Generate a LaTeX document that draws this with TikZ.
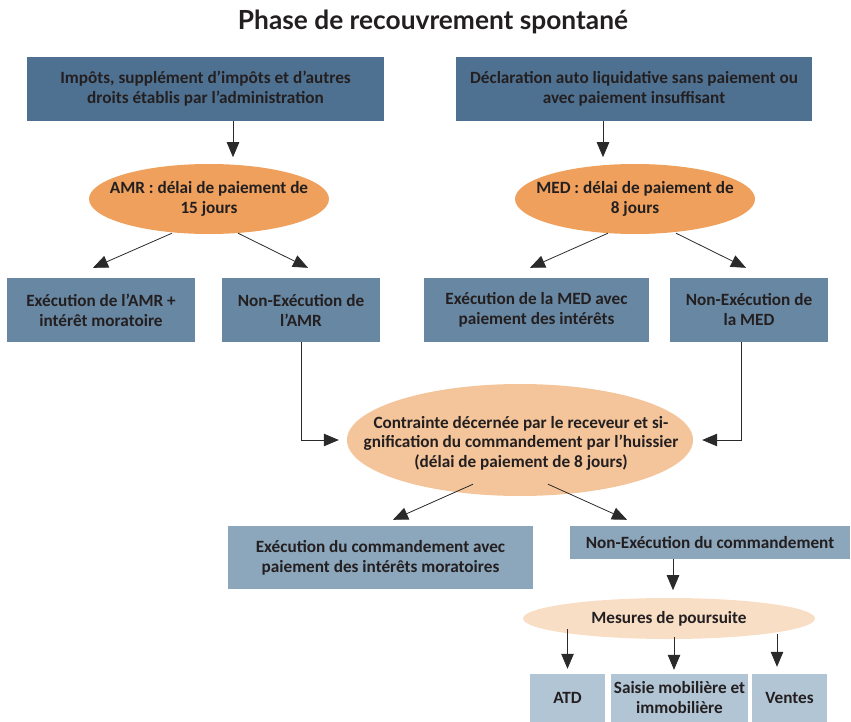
\documentclass[tikz,border=0pt]{standalone}
\usepackage{fontspec}
\setmainfont{Carlito}
\newfontfamily\titlefont{Lato}
\usetikzlibrary{arrows.meta,shapes.geometric}
\definecolor{txt}{HTML}{231F20}
\definecolor{boxA}{HTML}{4F7191}
\definecolor{boxB}{HTML}{6887A2}
\definecolor{boxC}{HTML}{8CA6BB}
\definecolor{boxD}{HTML}{B2C5D5}
\definecolor{ellA}{HTML}{EEA05C}
\definecolor{ellB}{HTML}{F4C59B}
\definecolor{ellC}{HTML}{F9DEC6}
\definecolor{lin}{HTML}{2A2A2A}
\tikzset{
  base/.style={text=txt,font=\bfseries\fontsize{17.2}{20}\selectfont,align=center,inner sep=0pt},
  boxa/.style={base,rectangle,fill=boxA},
  boxb/.style={base,rectangle,fill=boxB},
  boxc/.style={base,rectangle,fill=boxC},
  boxd/.style={base,rectangle,fill=boxD},
  ella/.style={ellipse,inner sep=0pt,fill=ellA},
  ellb/.style={ellipse,inner sep=0pt,fill=ellB},
  ellc/.style={ellipse,inner sep=0pt,fill=ellC},
  arr/.style={draw=lin,line width=0.8pt,-{Triangle[length=15pt,width=12.5pt]}}
}
\begin{document}
\begin{tikzpicture}[x=1pt,y=-1pt]
\useasboundingbox (0,0) rectangle (851,722);
\node[text=txt,font=\titlefont\bfseries\fontsize{26.3}{30}\selectfont,inner sep=0pt] (title) at (433,22) {Phase de recouvrement spontané};
\node[boxa,minimum width=357pt,minimum height=64pt] (b1) at (205.5,89) {Impôts, supplément d’impôts et d’autres\\droits établis par l’administration};
\node[boxa,minimum width=356pt,minimum height=64pt] (b2) at (634,89) {Déclaration auto liquidative sans paiement ou\\avec paiement insuffisant};
\node[ella,minimum width=240pt,minimum height=70pt] (e1) at (209,199) {};
\node[base] (e1t) at (e1.center) {AMR : délai de paiement de\\15 jours};
\node[ella,minimum width=240pt,minimum height=70pt] (e2) at (635,199) {};
\node[base] (e2t) at (e2.center) {MED : délai de paiement de\\8 jours};
\node[boxb,minimum width=188pt,minimum height=64pt] (b3) at (101,310) {Exécution de l’AMR +\\intérêt moratoire};
\node[boxb,minimum width=158pt,minimum height=64pt] (b4) at (301,310) {Non-Exécution de\\l’AMR};
\node[boxb,minimum width=225pt,minimum height=64pt] (b5) at (536.5,310) {Exécution de la MED avec\\paiement des intérêts};
\node[boxb,minimum width=158pt,minimum height=64pt] (b6) at (749,310) {Non-Exécution de\\la MED};
\node[ellb,minimum width=346pt,minimum height=112pt] (e3) at (520,440) {};
\node[base,font=\bfseries\fontsize{17.2}{19.5}\selectfont] (e3t) at (521,443) {Contrainte décernée par le receveur et si-\\gnification du commandement par l’huissier\\(délai de paiement de 8 jours)};
\node[boxc,minimum width=305pt,minimum height=63pt] (b7) at (380.5,557.5) {Exécution du commandement avec\\paiement des intérêts moratoires};
\node[boxc,minimum width=280pt,minimum height=33pt] (b8) at (710,542.5) {Non-Exécution du commandement};
\node[ellc,minimum width=292pt,minimum height=41pt] (e4) at (669,618.5) {};
\node[base] (e4t) at (e4.center) {Mesures de poursuite};
\node[boxd,minimum width=75pt,minimum height=48pt] (b9) at (567.5,698) {ATD};
\node[boxd,minimum width=137pt,minimum height=48pt] (b10) at (679.5,698) {Saisie mobilière et\\immobilière};
\node[boxd,minimum width=75pt,minimum height=48pt] (b11) at (789.5,698) {Ventes};
% connectors
\draw[arr] ([xshift=27.5pt]b1.south) -- ++(0,36);
\draw[arr] ([xshift=-31pt]b2.south) -- ++(0,36);
\draw[arr] ([xshift=-37pt,yshift=1pt]e1.south) -- ([xshift=-8pt,yshift=10pt]b3.north);
\draw[arr] ([xshift=29pt,yshift=1pt]e1.south) -- ([xshift=7pt,yshift=10pt]b4.north);
\draw[arr] ([xshift=-27pt,yshift=1pt]e2.south) -- ([xshift=-6.5pt,yshift=10pt]b5.north);
\draw[arr] ([xshift=41pt,yshift=1pt]e2.south) -- ([xshift=-3pt,yshift=10pt]b6.north);
\draw[arr] (b4.south) |- ([xshift=-8pt]e3.west);
\draw[arr] ([xshift=-8pt]b6.south) |- ([xshift=9pt]e3.east);
\draw[arr] ([xshift=-47pt,yshift=12pt]e3.south) -- ([xshift=12.5pt,yshift=6pt]b7.north);
\draw[arr] ([xshift=28pt,yshift=12pt]e3.south) -- ([xshift=-83pt,yshift=6pt]b8.north);
\draw[arr] ([xshift=-37pt]b8.south) -- ++(0,31);
\draw[arr] ([yshift=10pt]e4.south -| b9.north) -- ([yshift=5pt]b9.north);
\draw[arr] ([xshift=5pt,yshift=2pt]e4.south) -- ([xshift=-5.5pt,yshift=4pt]b10.north);
\draw[arr] ([xshift=108pt,yshift=5pt]e4.south) -- ([xshift=-12.5pt,yshift=7pt]b11.north);
\end{tikzpicture}
\end{document}
